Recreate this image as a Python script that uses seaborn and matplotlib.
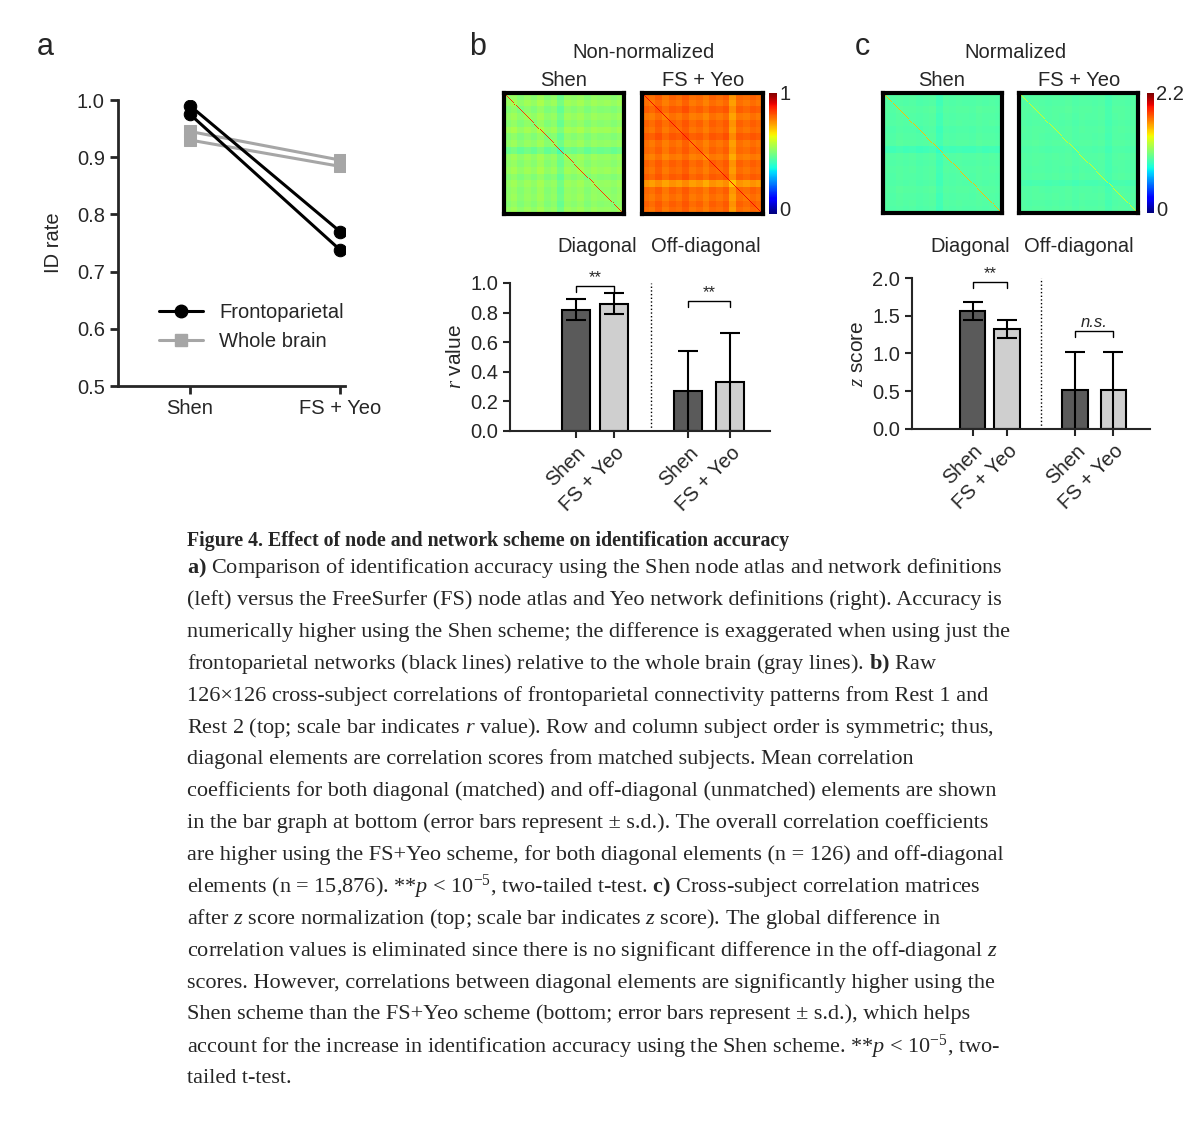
import numpy as np
import pandas as pd
import seaborn as sns
import matplotlib.pyplot as plt

sns.set_theme(style="ticks")
plt.rcParams['font.family'] = ['Liberation Sans', 'DejaVu Sans']
plt.rcParams['mathtext.fontset'] = 'custom'
plt.rcParams['mathtext.rm'] = 'Liberation Serif'
plt.rcParams['mathtext.it'] = 'Liberation Serif:italic'
plt.rcParams['mathtext.bf'] = 'Liberation Serif:bold'

# panel a data
schemes = ['Shen', 'FS + Yeo']
fp_run1 = [0.990, 0.770]
fp_run2 = [0.975, 0.738]
wb_run1 = [0.945, 0.895]
wb_run2 = [0.930, 0.884]

# bar data
bar_labels = ['Shen', 'FS + Yeo', 'Shen', 'FS + Yeo']
r_mean = [0.82, 0.86, 0.27, 0.33]
r_sd = [0.07, 0.07, 0.27, 0.33]
z_mean = [1.56, 1.33, 0.51, 0.51]
z_sd = [0.12, 0.12, 0.51, 0.51]

# matrix row strength profiles (coarse blocks, 18 blocks of 7 subjects)
shen_raw_rows = [0.52, 0.55, 0.50, 0.54, 0.51, 0.56, 0.50, 0.53, 0.44, 0.54, 0.52, 0.55, 0.50, 0.54, 0.52, 0.53, 0.51, 0.54]
fs_raw_rows = [0.80, 0.78, 0.82, 0.77, 0.81, 0.79, 0.83, 0.78, 0.80, 0.76, 0.81, 0.79, 0.82, 0.70, 0.80, 0.78, 0.81, 0.79]
shen_raw_diag = 0.85
fs_raw_diag = 0.90
shen_z_rows = [1.00, 0.98, 1.01, 0.99, 1.00, 0.97, 0.99, 1.01, 0.90, 1.00, 0.98, 1.00, 0.99, 0.98, 1.01, 0.99, 1.00, 0.98]
fs_z_rows = [1.00, 0.99, 1.01, 1.00, 0.98, 1.00, 0.99, 1.01, 0.97, 1.00, 0.99, 0.98, 1.00, 0.93, 0.99, 1.00, 0.98, 1.00]
shen_z_diag = 1.56
fs_z_diag = 1.33


def make_matrix(rows, diag):
    v = np.repeat(rows, 7)
    m = np.add.outer(v, v) / 2
    np.fill_diagonal(m, diag)
    return m


fig = plt.figure(figsize=(12, 11.43), dpi=100)
W, H = 1200, 1143


def ax_px(x0, y0, x1, y1):
    return fig.add_axes([x0 / W, 1 - y1 / H, (x1 - x0) / W, (y1 - y0) / H])


# ---- panel a
ax = ax_px(118, 100, 345, 386)
df = pd.DataFrame({'x': [0, 1] * 4,
                   'y': fp_run1 + fp_run2 + wb_run1 + wb_run2,
                   'line': ['f1'] * 2 + ['f2'] * 2 + ['w1'] * 2 + ['w2'] * 2})
for key, col, mk in [('w1', '#a6a6a6', 's'), ('w2', '#a6a6a6', 's'),
                     ('f1', 'black', 'o'), ('f2', 'black', 'o')]:
    d = df[df.line == key]
    sns.lineplot(data=d, x='x', y='y', ax=ax, color=col, marker=mk,
                 markersize=9, lw=2.2, markeredgecolor=col)
ax.plot([], [], color='black', marker='o', lw=2.2, ms=9, label='Frontoparietal')
ax.plot([], [], color='#a6a6a6', marker='s', lw=2.2, ms=9, label='Whole brain')
ax.legend(loc='lower left', bbox_to_anchor=(0.1, 0.06), frameon=False, fontsize=14.5, handlelength=2.2)
ax.set_xlim(-0.48, 1.033)
ax.set_ylim(0.5, 1.0)
ax.set_yticks([0.5, 0.6, 0.7, 0.8, 0.9, 1.0])
ax.set_yticklabels(['0.5', '0.6', '0.7', '0.8', '0.9', '1.0'])
ax.set_xticks([0, 1])
ax.set_xticklabels(schemes)
ax.set_xlabel('')
ax.set_ylabel('ID rate', fontsize=14.5, labelpad=10)
ax.tick_params(labelsize=14.5, width=2, length=6)
for s in ['left', 'bottom']:
    ax.spines[s].set_linewidth(2)
sns.despine(ax=ax)

# ---- matrices
cb_specs = [
    (shen_raw_rows, shen_raw_diag, (504, 93, 624, 214), 1.0),
    (fs_raw_rows, fs_raw_diag, (642, 93, 763, 214), 1.0),
    (shen_z_rows, shen_z_diag, (883, 93, 1002, 213), 2.2),
    (fs_z_rows, fs_z_diag, (1019, 93, 1138, 213), 2.2),
]
for rows, dg, box, vmax in cb_specs:
    mx = ax_px(*box)
    sns.heatmap(make_matrix(rows, dg), ax=mx, cmap='jet', vmin=0, vmax=vmax, cbar=False,
                xticklabels=False, yticklabels=False)
    for s in mx.spines.values():
        s.set_visible(True)
        s.set_linewidth(3)
        s.set_color('black')
for box, vmax, lab in [((769, 93, 777, 214), 1.0, '1'), ((1147, 93, 1154, 213), 2.2, '2.2')]:
    cx = ax_px(*box)
    cx.imshow(np.linspace(vmax, 0, 100)[:, None], cmap='jet', aspect='auto', vmin=0, vmax=vmax)
    cx.set_xticks([])
    cx.set_yticks([])
    for s in cx.spines.values():
        s.set_visible(False)
    fig.text(box[2] / W + 0.002, 1 - 95 / H, lab, fontsize=14.5, va='center')
    fig.text(box[2] / W + 0.002, 1 - 210 / H, '0', fontsize=14.5, va='center')

for x, t in [(643, 'Non-normalized'), (1015, 'Normalized')]:
    fig.text(x / W, 1 - 52 / H, t, fontsize=14.5, ha='center', va='center')
for x, t in [(564, 'Shen'), (703, 'FS + Yeo'), (942, 'Shen'), (1079, 'FS + Yeo')]:
    fig.text(x / W, 1 - 81 / H, t, fontsize=14.5, ha='center', va='center')
for x, t in [(597, 'Diagonal'), (706, 'Off-diagonal'), (970, 'Diagonal'), (1079, 'Off-diagonal')]:
    fig.text(x / W, 1 - 246 / H, t, fontsize=14.5, ha='center', va='center')

# ---- bar panels
pos = [0, 1, 2.95, 4.05]
colors = ['#5a5a5a', '#cfcfcf', '#5a5a5a', '#cfcfcf']


def bar_panel(box, means, sds, ymax, yt, ylab, sig1, sig2, h1, h2):
    bx = ax_px(*box)
    bdf = pd.DataFrame({'pos': pos, 'val': means, 'grp': ['d', 'f', 'd2', 'f2']})
    sns.barplot(data=bdf, x='pos', y='val', hue='grp', palette=colors, native_scale=True,
                width=0.74, dodge=False, legend=False, ax=bx, edgecolor='black', linewidth=1.5)
    bx.errorbar(pos, means, yerr=sds, fmt='none', ecolor='black', elinewidth=1.5, capsize=7, capthick=1.5)
    bx.set_xlim(-1.74, 5.1)
    bx.set_ylim(0, ymax)
    bx.set_yticks(yt)
    bx.set_yticklabels([f'{v:.1f}' for v in yt])
    bx.set_xticks(pos)
    bx.set_xticklabels(bar_labels, rotation=45, ha='right', rotation_mode='anchor')
    bx.set_xlabel('')
    bx.set_ylabel(ylab, fontsize=15)
    bx.axvline(1.98, color='black', ls=':', lw=1)
    bx.tick_params(labelsize=14.5, width=1.5, length=5)
    bx.spines['left'].set_linewidth(1.5)
    bx.spines['bottom'].set_linewidth(1.5)
    sns.despine(ax=bx)
    for (a, b), h, s in [((0, 1), h1, sig1), ((2.95, 4.05), h2, sig2)]:
        d = 0.04 * ymax
        bx.plot([a, a, b, b], [h - d, h, h, h - d], color='black', lw=1)
        bx.text((a + b) / 2, h + 0.005 * ymax, s, ha='center', va='bottom', fontsize=12,
                style='italic' if 'n' in s else 'normal')


bar_panel((510, 283, 770, 431), r_mean, r_sd, 1.0, [0.0, 0.2, 0.4, 0.6, 0.8, 1.0],
          '$r$ value', '**', '**', 0.98, 0.88)
bar_panel((912, 278, 1150, 429), z_mean, z_sd, 2.0, [0.0, 0.5, 1.0, 1.5, 2.0],
          '$z$ score', '**', 'n.s.', 1.95, 1.30)

for x, t in [(45, 'a'), (478, 'b'), (862, 'c')]:
    fig.text(x / W, 1 - 47 / H, t, fontsize=22, ha='center', va='center')

# ---- caption
fig.text(187 / W, 1 - 541 / H, 'Figure 4. Effect of node and network scheme on identification accuracy',
         family='Liberation Serif', weight='bold', fontsize=14.3, va='center')
cap = [
    r'$\mathbf{a)}$ Comparison of identification accuracy using the Shen node atlas and network definitions',
    '(left) versus the FreeSurfer (FS) node atlas and Yeo network definitions (right). Accuracy is',
    'numerically higher using the Shen scheme; the difference is exaggerated when using just the',
    r'frontoparietal networks (black lines) relative to the whole brain (gray lines). $\mathbf{b)}$ Raw',
    '126×126 cross-subject correlations of frontoparietal connectivity patterns from Rest 1 and',
    r'Rest 2 (top; scale bar indicates $r$ value). Row and column subject order is symmetric; thus,',
    'diagonal elements are correlation scores from matched subjects. Mean correlation',
    'coefficients for both diagonal (matched) and off-diagonal (unmatched) elements are shown',
    'in the bar graph at bottom (error bars represent ± s.d.). The overall correlation coefficients',
    'are higher using the FS+Yeo scheme, for both diagonal elements (n = 126) and off-diagonal',
    r'elements (n = 15,876). **$p$ < 10$^{-5}$, two-tailed t-test. $\mathbf{c)}$ Cross-subject correlation matrices',
    r'after $z$ score normalization (top; scale bar indicates $z$ score). The global difference in',
    r'correlation values is eliminated since there is no significant difference in the off-diagonal $z$',
    'scores. However, correlations between diagonal elements are significantly higher using the',
    'Shen scheme than the FS+Yeo scheme (bottom; error bars represent ± s.d.), which helps',
    r'account for the increase in identification accuracy using the Shen scheme. **$p$ < 10$^{-5}$, two-',
    'tailed t-test.',
]
for i, line in enumerate(cap):
    fig.text(187 / W, 1 - (568 + i * 31.9) / H, line, family='Liberation Serif', fontsize=16, va='center')

fig.savefig('out.png', dpi=100)
